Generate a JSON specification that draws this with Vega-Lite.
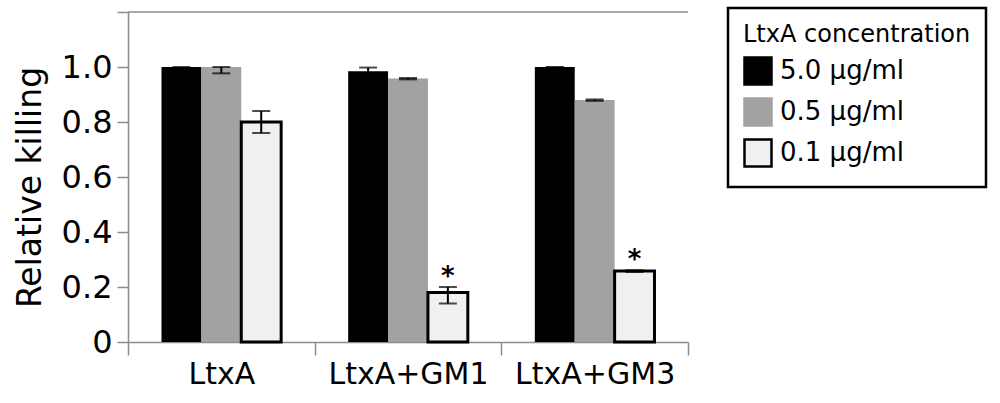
{
  "$schema": "https://vega.github.io/schema/vega-lite/v6.json",
  "width": 560,
  "height": 330,
  "autosize": {"type": "none"},
  "padding": {"left": 128, "top": 12, "right": 312, "bottom": 61},
  "background": "white",
  "config": {
    "view": {"stroke": null},
    "font": "DejaVu Sans",
    "axis": {"domainColor": "#8c8c8c", "tickColor": "#8c8c8c", "domainWidth": 1.5, "tickWidth": 1.5, "labelColor": "black", "titleColor": "black", "labelFont": "DejaVu Sans", "titleFont": "DejaVu Sans", "grid": false},
    "legend": {
      "orient": "none", "legendX": 600, "legendY": -4,
      "strokeColor": "black", "strokeWidth": 2.5, "padding": 15,
      "titleFont": "DejaVu Sans", "titleFontSize": 24, "titleFontWeight": "normal", "titleColor": "black", "titleLimit": 1000,
      "labelFont": "DejaVu Sans", "labelFontSize": 26, "labelColor": "black", "labelLimit": 1000,
      "symbolType": "square", "symbolSize": 729, "symbolStrokeWidth": 2.5,
      "rowPadding": 3, "titlePadding": 9, "labelOffset": 7
    }
  },
  "data": {"values": [
    {"group": "LtxA", "conc": "5.0 μg/ml", "value": 1.0, "lo": 0.996, "hi": 1.0, "sig": ""},
    {"group": "LtxA", "conc": "0.5 μg/ml", "value": 1.0, "lo": 0.977, "hi": 1.0, "sig": ""},
    {"group": "LtxA", "conc": "0.1 μg/ml", "value": 0.80, "lo": 0.76, "hi": 0.84, "sig": ""},
    {"group": "LtxA+GM1", "conc": "5.0 μg/ml", "value": 0.985, "lo": 0.975, "hi": 0.998, "sig": ""},
    {"group": "LtxA+GM1", "conc": "0.5 μg/ml", "value": 0.958, "lo": 0.955, "hi": 0.96, "sig": ""},
    {"group": "LtxA+GM1", "conc": "0.1 μg/ml", "value": 0.18, "lo": 0.14, "hi": 0.20, "sig": "*"},
    {"group": "LtxA+GM3", "conc": "5.0 μg/ml", "value": 1.0, "lo": 0.998, "hi": 1.0, "sig": ""},
    {"group": "LtxA+GM3", "conc": "0.5 μg/ml", "value": 0.88, "lo": 0.877, "hi": 0.882, "sig": ""},
    {"group": "LtxA+GM3", "conc": "0.1 μg/ml", "value": 0.258, "lo": 0.255, "hi": 0.261, "sig": "*"}
  ]},
  "encoding": {
    "x": {"field": "group", "type": "nominal", "sort": null,
      "scale": {"paddingInner": 0, "paddingOuter": 0},
      "axis": {"title": null, "labelAngle": 0, "labelFontSize": 30, "tickBand": "extent", "tickSize": 13, "labelPadding": 4}},
    "xOffset": {"field": "conc", "type": "nominal", "sort": null, "scale": {"paddingInner": 0, "paddingOuter": 0.84, "domain": ["5.0 μg/ml", "0.5 μg/ml", "0.1 μg/ml"]}}
  },
  "layer": [
    {
      "mark": {"type": "bar"},
      "encoding": {
        "y": {"field": "value", "type": "quantitative",
          "scale": {"domain": [0, 1.2], "nice": false, "zero": true},
          "axis": {"title": "Relative killing", "titleFontSize": 33, "titleFontWeight": "normal", "titlePadding": 14, "titleY": 175,
            "values": [0, 0.2, 0.4, 0.6, 0.8, 1.0, 1.2], "labelFontSize": 32, "tickSize": 11, "labelPadding": 5,
            "labelExpr": "datum.value == 0 ? '0' : (datum.value > 1.1 ? '' : format(datum.value, '.1f'))"}},
        "color": {"field": "conc", "type": "nominal", "sort": null,
          "scale": {"domain": ["5.0 μg/ml", "0.5 μg/ml", "0.1 μg/ml"], "range": ["#000000", "#a2a2a2", "#f0f0f0"]},
          "legend": {"title": "LtxA concentration"}},
        "stroke": {"field": "conc", "type": "nominal", "sort": null,
          "scale": {"domain": ["5.0 μg/ml", "0.5 μg/ml", "0.1 μg/ml"], "range": ["#000000", "#a2a2a2", "#000000"]},
          "legend": {"title": "LtxA concentration"}},
        "strokeWidth": {"condition": {"test": "datum.conc === '0.1 μg/ml'", "value": 3}, "value": 0},
        "opacity": {"value": 1}
      }
    },
    {
      "mark": {"type": "rule", "color": "black", "strokeWidth": 2},
      "encoding": {
        "y": {"field": "lo", "type": "quantitative"},
        "y2": {"field": "hi"}
      }
    },
    {
      "mark": {"type": "tick", "color": "black", "thickness": 2, "size": 18, "orient": "horizontal"},
      "encoding": {"y": {"field": "lo", "type": "quantitative"}}
    },
    {
      "mark": {"type": "tick", "color": "black", "thickness": 2, "size": 18, "orient": "horizontal"},
      "encoding": {"y": {"field": "hi", "type": "quantitative"}}
    },
    {
      "transform": [{"filter": "datum.sig != ''"}],
      "mark": {"type": "text", "fontSize": 26, "fontWeight": "bold", "color": "black", "baseline": "alphabetic", "dy": -2},
      "encoding": {
        "y": {"field": "hi", "type": "quantitative"},
        "text": {"field": "sig"}
      }
    },
    {
      "data": {"values": [{}]},
      "mark": {"type": "rule", "color": "#8c8c8c", "strokeWidth": 1.5},
      "encoding": {"y": {"datum": 1.2}, "x": null, "xOffset": null}
    }
  ]
}
